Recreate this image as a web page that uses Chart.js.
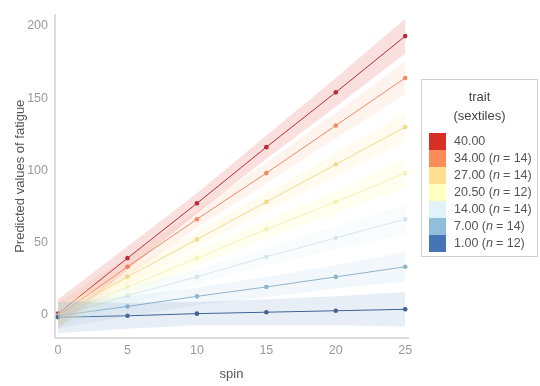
<!DOCTYPE html>
<html>
<head>
<meta charset="utf-8">
<script src="https://cdn.jsdelivr.net/npm/chart.js@4"></script>
<style>
  body { margin: 0; background: #fff; font-family: "Liberation Sans", Arial, sans-serif; }
  #wrap { position: relative; width: 540px; height: 386px; }
  #legend {
    position: absolute; left: 421px; top: 79px; width: 117px; height: 178px;
    border: 1px solid #d0d0d0; box-sizing: border-box; color: #555; font-size: 12.5px;
  }
  #legend .title { text-align: center; color: #444; font-size: 13px; line-height: 19px; margin-top: 7px; }
  #legend ul { list-style: none; margin: 8px 0 0 7px; padding: 0; }
  #legend li { height: 17px; line-height: 17px; display: flex; align-items: center; }
  #legend .sw { width: 17px; height: 17px; margin-right: 8px; }
  #legend i { margin-right: 3px; }
</style>
</head>
<body>
<div id="wrap">
  <canvas id="chart" width="540" height="386"></canvas>
  <div id="legend"></div>
</div>
<script>
const spin = [0, 5, 10, 15, 20, 25];
const traitLabels = ['40.00', '34.00', '27.00', '20.50', '14.00', '7.00', '1.00'];
const traitN = [null, 14, 14, 12, 14, 14, 12];

// predicted fatigue per trait sextile
const fit40 = [0.5, 39, 77, 116, 154, 193];
const fit34 = [-1, 33, 66, 98, 131, 164];
const fit27 = [-1, 26, 52, 78, 104, 130];
const fit205 = [-1, 19, 39, 59, 78, 98];
const fit14 = [-1, 13, 26, 40, 53, 66];
const fit7 = [-1, 5.5, 12.5, 19, 26, 33];
const fit1 = [-2, -1, 0.5, 1.5, 2.5, 3.5];

// half widths of the confidence bands
const ci40 = [10, 8, 7, 8, 10, 12];
const ci34 = [9, 7, 6, 7, 9, 11];
const ci27 = [8, 6, 5, 6, 8, 10];
const ci205 = [8, 6, 5, 6, 8, 10];
const ci14 = [8, 6, 5, 6, 8, 10];
const ci7 = [9, 7, 6, 7, 8, 10];
const ci1 = [11, 9, 8, 9, 10, 12];

const yTicks = [0, 50, 100, 150, 200];
const xTicks = [0, 5, 10, 15, 20, 25];

const fills = ['#d73027', '#fc8d59', '#fee090', '#ffffbf', '#e0f3f8', '#91bfdb', '#4575b4'];
const lineCols = ['#b8283a', '#ef8a64', '#efd98a', '#f1eeb4', '#d5e3ea', '#8fb3ca', '#3f5f8f'];
const bandCols = ['rgba(215,48,39,0.15)', 'rgba(252,141,89,0.1)', 'rgba(254,224,144,0.14)',
  'rgba(255,255,191,0.25)', 'rgba(224,243,248,0.22)', 'rgba(145,191,219,0.13)', 'rgba(69,117,180,0.12)'];

const fits = [fit40, fit34, fit27, fit205, fit14, fit7, fit1];
const cis = [ci40, ci34, ci27, ci205, ci14, ci7, ci1];

const pts = arr => spin.map((x, i) => ({ x: x, y: arr[i] }));

const datasets = [];
// bands first (lowest trait drawn first so red sits on top)
for (let k = fits.length - 1; k >= 0; k--) {
  datasets.push({
    data: pts(fits[k].map((v, i) => v - cis[k][i])),
    borderWidth: 0, pointRadius: 0, fill: false
  });
  datasets.push({
    data: pts(fits[k].map((v, i) => v + cis[k][i])),
    borderWidth: 0, pointRadius: 0, fill: '-1', backgroundColor: bandCols[k]
  });
}
for (let k = fits.length - 1; k >= 0; k--) {
  datasets.push({
    data: pts(fits[k]),
    borderColor: lineCols[k], backgroundColor: lineCols[k],
    borderWidth: 1, pointRadius: 2.3, pointBorderWidth: 0, fill: false
  });
}

new Chart(document.getElementById('chart'), {
  type: 'line',
  data: { datasets: datasets },
  options: {
    responsive: false,
    animation: false,
    layout: { padding: { top: 10, right: 132, left: 0, bottom: 0 } },
    plugins: { legend: { display: false }, tooltip: { enabled: false } },
    elements: { line: { tension: 0 } },
    scales: {
      x: {
        type: 'linear', min: -0.22, max: 25.2,
        grid: { display: false, drawTicks: false },
        border: { color: '#dcdcdc', width: 2 },
        afterBuildTicks: s => { s.ticks = xTicks.map(v => ({ value: v })); },
        afterFit: s => { s.height = 48; },
        ticks: { color: '#9a9a9a', font: { family: 'Liberation Sans', size: 12.5 }, padding: 5, maxRotation: 0 },
        title: { display: true, text: 'spin', color: '#555', font: { family: 'Liberation Sans', size: 13 }, padding: { top: 2 } }
      },
      y: {
        type: 'linear', min: -16.4, max: 208,
        grid: { display: false, drawTicks: false },
        border: { color: '#dcdcdc', width: 2 },
        afterBuildTicks: s => { s.ticks = yTicks.map(v => ({ value: v })); },
        afterFit: s => { s.width = 55; },
        ticks: { color: '#9a9a9a', font: { family: 'Liberation Sans', size: 12.5 }, padding: 7 },
        title: { display: true, text: 'Predicted values of fatigue', color: '#555', font: { family: 'Liberation Sans', size: 13 }, padding: { top: 13, bottom: 0 } }
      }
    }
  }
});

const leg = document.getElementById('legend');
let html = '<div class="title">trait<br>(sextiles)</div><ul>';
traitLabels.forEach((lab, i) => {
  const n = traitN[i] == null ? '' : ' (<i>n</i>= ' + traitN[i] + ')';
  html += '<li><span class="sw" style="background:' + fills[i] + '"></span>' + lab + n + '</li>';
});
leg.innerHTML = html + '</ul>';
</script>
</body>
</html>
